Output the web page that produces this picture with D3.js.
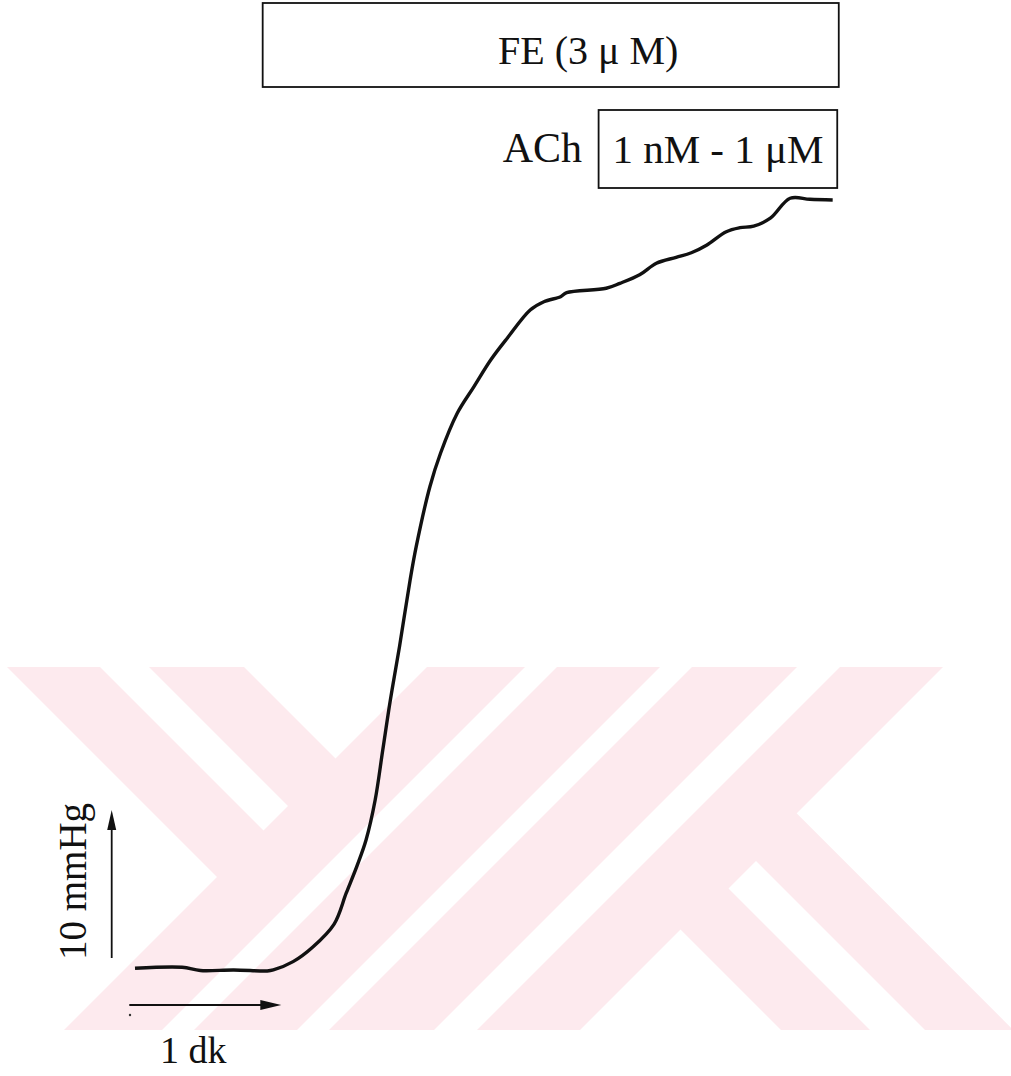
<!DOCTYPE html>
<html>
<head>
<meta charset="utf-8">
<script src="https://cdn.jsdelivr.net/npm/d3@7"></script>
<style>
  html, body { margin: 0; padding: 0; background: #fff; }
  svg { display: block; }
</style>
</head>
<body>
<script>
// ---- data: pressure trace (time in min, tension in mmHg relative to baseline)
const time = [0, 0.31, 0.43, 0.65, 0.87, 0.91, 1.04, 1.17, 1.31, 1.39, 1.46, 1.52, 1.58, 1.63, 1.68,
  1.74, 1.81, 1.85, 1.94, 2.01, 2.12, 2.23, 2.34, 2.45, 2.60, 2.69, 2.80, 2.84, 3.10, 3.19,
  3.32, 3.43, 3.56, 3.66, 3.76, 3.89, 3.98, 4.07, 4.18, 4.31, 4.44, 4.59];
const pressure = [0, 0.07, -0.15, -0.11, -0.18, -0.11, 0.45, 1.44, 2.99, 5.09, 6.91, 8.67, 11.37, 14.75, 18.13,
  21.73, 26.24, 28.49, 32.54, 34.80, 37.50, 39.30, 41.10, 42.59, 44.48, 45.04, 45.38, 45.65, 45.95, 46.28,
  46.86, 47.64, 48.04, 48.35, 48.86, 49.77, 50.04, 50.15, 50.68, 52.03, 51.96, 51.91];

// drug application bars (time in min)
const drugNames = ["FE (3 \u03BC M)", "1 nM - 1 \u03BCM"];
const drugStart = [0.84, 3.05];
const drugEnd = [4.63, 4.62];
const drugPrefix = ["", "ACh"];

// scale bar labels
const scaleBarValues = [1, 10];          // 1 min, 10 mmHg
const scaleBarLabels = ["1 dk", "10 mmHg"];

// ---- drawing
const W = 1011, H = 1076;
const svg = d3.select("body").append("svg").attr("width", W).attr("height", H);

const x = d3.scaleLinear().domain([0, 1]).range([135, 287]);
const y = d3.scaleLinear().domain([0, 10]).range([968.3, 820.3]);

// watermark (background decoration)
const wmColor = "#fdeaee";
const defs = svg.append("defs");
defs.append("clipPath").attr("id", "wmclip")
  .append("rect").attr("x", 0).attr("y", 667).attr("width", W).attr("height", 363);
const wm = svg.append("g").attr("clip-path", "url(#wmclip)");
const slash = (s1, s2) => [[s1 - 600, 600], [s2 - 600, 600], [s2 - 1100, 1100], [s1 - 1100, 1100]];
const backArm = (c1, c2, sLim) => [[c1 + 500, 500], [c2 + 500, 500],
  [(sLim + c2) / 2, (sLim - c2) / 2], [(sLim + c1) / 2, (sLim - c1) / 2]];
const leg = (c1, c2, sMin) => [[(sMin + c1) / 2, (sMin - c1) / 2], [(sMin + c2) / 2, (sMin - c2) / 2],
  [c2 + 1300, 1300], [c1 + 1300, 1300]];
const pinkPolys = [
  slash(1094, 1192), slash(1224, 1327), slash(1359, 1464), slash(1507, 1610),
  backArm(-660, -567, 1095), backArm(-518, -423, 1095),
  leg(-249, -16.7, 1600)
];
wm.selectAll("path.pink").data(pinkPolys).join("path")
  .attr("class", "pink")
  .attr("d", p => "M" + p.join("L") + "Z")
  .attr("fill", wmColor);
wm.append("path")
  .attr("d", "M" + leg(-160, -105, 1617).join("L") + "Z")
  .attr("fill", "#fff");

// drug boxes
const fontFam = "'Liberation Serif', 'Times New Roman', serif";
const boxY = [3, 110], boxH = [84, 78];
svg.selectAll("rect.drug").data(drugNames).join("rect")
  .attr("class", "drug")
  .attr("x", (d, i) => x(drugStart[i]))
  .attr("y", (d, i) => boxY[i])
  .attr("width", (d, i) => x(drugEnd[i]) - x(drugStart[i]))
  .attr("height", (d, i) => boxH[i])
  .attr("fill", "none").attr("stroke", "#111").attr("stroke-width", 1.8);

svg.append("text").attr("x", 498).attr("y", 63.5)
  .attr("font-family", fontFam).attr("font-size", 40).attr("fill", "#111")
  .text(drugNames[0]);
svg.append("text").attr("x", (x(drugStart[1]) + x(drugEnd[1])) / 2).attr("y", 163)
  .attr("text-anchor", "middle")
  .attr("font-family", fontFam).attr("font-size", 41).attr("fill", "#111")
  .text(drugNames[1]);
svg.append("text").attr("x", 582).attr("y", 162)
  .attr("text-anchor", "end")
  .attr("font-family", fontFam).attr("font-size", 42).attr("fill", "#111")
  .text(drugPrefix[1]);

// trace
const line = d3.line().x((d, i) => x(time[i])).y((d, i) => y(pressure[i]))
  .curve(d3.curveCatmullRom.alpha(0.5));
svg.append("path").datum(time)
  .attr("d", line)
  .attr("fill", "none").attr("stroke", "#111").attr("stroke-width", 3.4)
  .attr("stroke-linejoin", "round");

// scale bars
// horizontal (time) arrow
const hx0 = 129.3, hy = 1005;
const hx1 = hx0 + (x(scaleBarValues[0]) - x(0));
svg.append("line").attr("x1", hx0).attr("y1", hy).attr("x2", hx1 - 16).attr("y2", hy)
  .attr("stroke", "#111").attr("stroke-width", 2);
svg.append("path")
  .attr("d", `M${hx1},${hy}L${hx1 - 21},${hy - 5}L${hx1 - 21},${hy + 5}Z`)
  .attr("fill", "#111");
svg.append("circle").attr("cx", 130).attr("cy", 1015).attr("r", 1.2).attr("fill", "#333");
svg.append("text").attr("x", 160).attr("y", 1063)
  .attr("font-family", fontFam).attr("font-size", 38).attr("fill", "#111")
  .text(scaleBarLabels[0]);

// vertical (pressure) arrow
const vx = 111.7, vy0 = 958;
const vy1 = vy0 - (y(0) - y(scaleBarValues[1]));
svg.append("line").attr("x1", vx).attr("y1", vy0).attr("x2", vx).attr("y2", vy1 + 14)
  .attr("stroke", "#111").attr("stroke-width", 1.8);
svg.append("path")
  .attr("d", `M${vx},${vy1}L${vx - 4.5},${vy1 + 20}L${vx + 4.5},${vy1 + 20}Z`)
  .attr("fill", "#111");
svg.append("text")
  .attr("transform", `translate(86,960) rotate(-90)`)
  .attr("font-family", fontFam).attr("font-size", 39).attr("fill", "#111")
  .text(scaleBarLabels[1]);
</script>
</body>
</html>
